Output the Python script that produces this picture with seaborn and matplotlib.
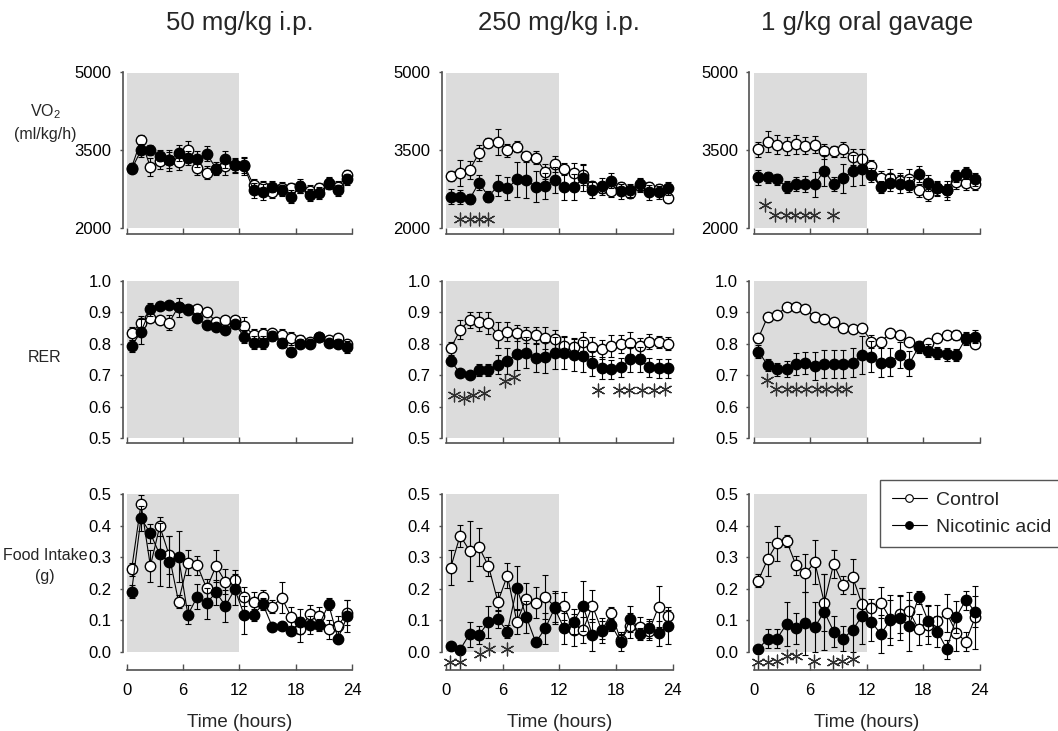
import matplotlib
matplotlib.use("Agg")
import matplotlib.pyplot as plt
from matplotlib.lines import Line2D
import seaborn as sns

# ---------------- data ----------------
hours = [0.5, 1.5, 2.5, 3.5, 4.5, 5.5, 6.5, 7.5, 8.5, 9.5, 10.5, 11.5,
         12.5, 13.5, 14.5, 15.5, 16.5, 17.5, 18.5, 19.5, 20.5, 21.5, 22.5, 23.5]

col_titles = ["50 mg/kg i.p.", "250 mg/kg i.p.", "1 g/kg oral gavage"]
row_labels = ["VO$_2$\n(ml/kg/h)", "RER", "Food Intake\n(g)"]
series_names = ["Control", "Nicotinic acid"]
x_ticks = [0, 6, 12, 18, 24]
vo2_ticks = [2000, 3500, 5000]
rer_ticks = [0.5, 0.6, 0.7, 0.8, 0.9, 1.0]
food_ticks = [0.0, 0.1, 0.2, 0.3, 0.4, 0.5]
dark_phase = [0, 12]

# VO2 (ml/kg/h)
vo2_50_ctrl = [3170, 3700, 3180, 3300, 3310, 3280, 3500, 3170, 3070, 3150, 3190, 3210,
               3220, 2830, 2800, 2700, 2770, 2770, 2800, 2720, 2770, 2860, 2800, 3030]
vo2_50_ctrl_err = [80, 100, 180, 150, 200, 150, 180, 150, 120, 120, 160, 150,
                   150, 120, 120, 120, 120, 110, 120, 120, 110, 110, 110, 100]
vo2_50_na = [3140, 3500, 3510, 3400, 3320, 3450, 3350, 3330, 3440, 3150, 3330, 3210,
             3190, 2730, 2700, 2800, 2730, 2610, 2810, 2640, 2680, 2870, 2730, 2940]
vo2_50_na_err = [70, 120, 100, 110, 150, 160, 130, 150, 140, 90, 160, 130,
                 160, 150, 150, 110, 110, 120, 130, 110, 120, 110, 110, 100]

vo2_250_ctrl = [3010, 3070, 3120, 3450, 3650, 3670, 3500, 3570, 3390, 3360, 3090, 3240,
                3140, 3060, 3030, 2820, 2770, 2710, 2790, 2680, 2820, 2800, 2750, 2580]
vo2_250_ctrl_err = [100, 250, 180, 150, 80, 250, 120, 110, 80, 120, 150, 150,
                    120, 200, 200, 100, 120, 100, 100, 100, 120, 100, 100, 100]
vo2_250_na = [2610, 2600, 2560, 2880, 2610, 2820, 2770, 2940, 2930, 2800, 2820, 2930,
              2800, 2790, 2960, 2740, 2820, 2920, 2710, 2730, 2850, 2690, 2690, 2770]
vo2_250_na_err = [150, 130, 100, 150, 100, 200, 220, 330, 350, 300, 250, 250,
                  250, 250, 250, 150, 140, 150, 150, 130, 120, 150, 120, 120]

vo2_1g_ctrl = [3520, 3670, 3610, 3590, 3620, 3590, 3610, 3480, 3480, 3520, 3370, 3330,
               3200, 2960, 2960, 2920, 2940, 2730, 2660, 2770, 2730, 2900, 2880, 2850]
vo2_1g_ctrl_err = [150, 200, 180, 170, 180, 160, 160, 150, 110, 150, 160, 200,
                   110, 150, 180, 150, 200, 120, 140, 130, 120, 150, 150, 120]
vo2_1g_na = [2980, 2980, 2940, 2800, 2850, 2850, 2850, 3110, 2850, 2960, 3110, 3140,
             3030, 2790, 2880, 2850, 2840, 3050, 2870, 2770, 2730, 3010, 3060, 2940]
vo2_1g_na_err = [150, 110, 100, 120, 140, 160, 240, 300, 130, 280, 300, 300,
                 130, 120, 160, 170, 140, 150, 150, 140, 180, 120, 120, 120]

# RER
rer_50_ctrl = [0.833, 0.867, 0.881, 0.875, 0.867, 0.918, 0.907, 0.909, 0.900, 0.870, 0.875, 0.875,
               0.856, 0.828, 0.831, 0.835, 0.828, 0.817, 0.812, 0.807, 0.822, 0.812, 0.817, 0.800]
rer_50_ctrl_err = [0.02, 0.02, 0.01, 0.01, 0.025, 0.01, 0.01, 0.01, 0.01, 0.01, 0.01, 0.01,
                   0.03, 0.02, 0.02, 0.01, 0.02, 0.02, 0.015, 0.01, 0.01, 0.01, 0.015, 0.01]
rer_50_na = [0.793, 0.838, 0.909, 0.920, 0.923, 0.915, 0.909, 0.881, 0.859, 0.854, 0.844, 0.863,
             0.822, 0.803, 0.803, 0.825, 0.803, 0.775, 0.800, 0.800, 0.822, 0.803, 0.800, 0.789]
rer_50_na_err = [0.02, 0.04, 0.02, 0.01, 0.01, 0.03, 0.01, 0.01, 0.01, 0.01, 0.01, 0.01,
                 0.02, 0.02, 0.02, 0.015, 0.015, 0.01, 0.015, 0.015, 0.01, 0.01, 0.015, 0.02]

rer_250_ctrl = [0.785, 0.844, 0.875, 0.870, 0.865, 0.828, 0.838, 0.835, 0.828, 0.828, 0.817, 0.815,
                0.793, 0.789, 0.807, 0.791, 0.782, 0.793, 0.799, 0.801, 0.793, 0.807, 0.805, 0.800]
rer_250_ctrl_err = [0.02, 0.03, 0.025, 0.03, 0.035, 0.04, 0.03, 0.025, 0.025, 0.025, 0.035, 0.03,
                    0.03, 0.03, 0.03, 0.03, 0.03, 0.035, 0.03, 0.035, 0.025, 0.025, 0.02, 0.02]
rer_250_na = [0.746, 0.706, 0.701, 0.717, 0.717, 0.733, 0.745, 0.767, 0.772, 0.754, 0.757, 0.770,
              0.770, 0.765, 0.761, 0.738, 0.722, 0.719, 0.725, 0.751, 0.751, 0.725, 0.722, 0.722]
rer_250_na_err = [0.015, 0.01, 0.01, 0.02, 0.02, 0.03, 0.04, 0.05, 0.05, 0.045, 0.05, 0.05,
                  0.05, 0.05, 0.05, 0.04, 0.035, 0.03, 0.03, 0.04, 0.04, 0.03, 0.03, 0.03]

rer_1g_ctrl = [0.817, 0.886, 0.891, 0.918, 0.915, 0.910, 0.884, 0.878, 0.870, 0.851, 0.846, 0.851,
               0.807, 0.807, 0.833, 0.828, 0.807, 0.793, 0.801, 0.817, 0.828, 0.828, 0.815, 0.800]
rer_1g_ctrl_err = [0.015, 0.01, 0.01, 0.01, 0.01, 0.01, 0.01, 0.01, 0.01, 0.01, 0.01, 0.01,
                   0.02, 0.01, 0.01, 0.01, 0.01, 0.01, 0.015, 0.01, 0.01, 0.015, 0.01, 0.01]
rer_1g_na = [0.775, 0.733, 0.719, 0.719, 0.736, 0.738, 0.729, 0.736, 0.736, 0.736, 0.740, 0.764,
             0.759, 0.740, 0.743, 0.764, 0.736, 0.789, 0.778, 0.770, 0.766, 0.764, 0.817, 0.822]
rer_1g_na_err = [0.02, 0.02, 0.02, 0.025, 0.035, 0.035, 0.045, 0.045, 0.045, 0.045, 0.045, 0.06,
                 0.05, 0.045, 0.045, 0.04, 0.04, 0.02, 0.02, 0.02, 0.02, 0.02, 0.02, 0.02]

# Food intake (g)
food_50_ctrl = [0.262, 0.469, 0.272, 0.399, 0.307, 0.159, 0.283, 0.275, 0.201, 0.272, 0.222, 0.228,
                0.175, 0.159, 0.175, 0.143, 0.172, 0.111, 0.071, 0.120, 0.113, 0.071, 0.082, 0.124]
food_50_ctrl_err = [0.02, 0.03, 0.05, 0.03, 0.06, 0.02, 0.04, 0.03, 0.03, 0.05, 0.04, 0.03,
                    0.03, 0.03, 0.02, 0.02, 0.05, 0.03, 0.04, 0.03, 0.03, 0.03, 0.03, 0.04]
food_50_na = [0.191, 0.424, 0.376, 0.309, 0.286, 0.302, 0.117, 0.175, 0.154, 0.189, 0.146, 0.198,
              0.117, 0.117, 0.151, 0.079, 0.083, 0.066, 0.095, 0.085, 0.085, 0.151, 0.042, 0.113]
food_50_na_err = [0.02, 0.04, 0.03, 0.10, 0.08, 0.08, 0.03, 0.04, 0.05, 0.04, 0.05, 0.05,
                  0.06, 0.02, 0.02, 0.01, 0.01, 0.01, 0.04, 0.03, 0.02, 0.02, 0.015, 0.05]

food_250_ctrl = [0.267, 0.369, 0.321, 0.332, 0.272, 0.159, 0.242, 0.095, 0.169, 0.156, 0.175, 0.143,
                 0.146, 0.069, 0.069, 0.146, 0.067, 0.122, 0.037, 0.083, 0.080, 0.067, 0.143, 0.114]
food_250_ctrl_err = [0.055, 0.035, 0.095, 0.06, 0.03, 0.03, 0.04, 0.04, 0.05, 0.05, 0.07, 0.05,
                     0.045, 0.05, 0.04, 0.05, 0.04, 0.02, 0.02, 0.04, 0.03, 0.03, 0.065, 0.02]
food_250_na = [0.018, 0.007, 0.056, 0.053, 0.095, 0.104, 0.064, 0.203, 0.111, 0.030, 0.074, 0.138,
               0.074, 0.095, 0.146, 0.053, 0.069, 0.085, 0.032, 0.104, 0.056, 0.074, 0.058, 0.083]
food_250_na_err = [0.01, 0.01, 0.04, 0.03, 0.05, 0.03, 0.02, 0.07, 0.05, 0.01, 0.05, 0.05,
                   0.05, 0.04, 0.08, 0.05, 0.03, 0.02, 0.03, 0.04, 0.02, 0.03, 0.04, 0.06]

food_1g_ctrl = [0.226, 0.294, 0.344, 0.352, 0.275, 0.249, 0.284, 0.156, 0.279, 0.212, 0.238, 0.151,
                0.138, 0.156, 0.105, 0.120, 0.130, 0.071, 0.085, 0.099, 0.122, 0.061, 0.032, 0.109]
food_1g_ctrl_err = [0.02, 0.055, 0.055, 0.02, 0.03, 0.06, 0.07, 0.09, 0.045, 0.03, 0.055, 0.05,
                    0.03, 0.05, 0.06, 0.06, 0.06, 0.05, 0.06, 0.05, 0.06, 0.06, 0.03, 0.10]
food_1g_na = [0.008, 0.042, 0.042, 0.088, 0.074, 0.090, 0.079, 0.127, 0.064, 0.042, 0.069, 0.113,
              0.095, 0.056, 0.100, 0.106, 0.083, 0.173, 0.099, 0.064, 0.008, 0.111, 0.164, 0.127]
food_1g_na_err = [0.01, 0.03, 0.03, 0.07, 0.05, 0.10, 0.08, 0.12, 0.05, 0.04, 0.07, 0.09,
                  0.06, 0.06, 0.08, 0.07, 0.08, 0.02, 0.05, 0.05, 0.03, 0.05, 0.03, 0.05]

# significance asterisks (hour, value)
star_vo2_250_x = [1.5, 2.5, 3.5, 4.5]
star_vo2_250_y = [2170, 2170, 2170, 2170]
star_vo2_1g_x = [1.2, 2.3, 3.4, 4.4, 5.5, 6.4, 8.4]
star_vo2_1g_y = [2450, 2260, 2250, 2250, 2250, 2260, 2260]
star_rer_250_x = [0.8, 1.9, 2.9, 4.0, 6.2, 7.2, 16.1, 18.3, 19.4, 20.7, 22.0, 23.2]
star_rer_250_y = [0.637, 0.627, 0.637, 0.644, 0.683, 0.693, 0.652, 0.653, 0.653, 0.653, 0.653, 0.655]
star_rer_1g_x = [1.4, 2.4, 3.5, 4.5, 5.6, 6.7, 7.7, 8.8, 9.8]
star_rer_1g_y = [0.684, 0.656, 0.656, 0.656, 0.656, 0.656, 0.656, 0.656, 0.656]
star_food_250_x = [0.45, 1.45, 3.6, 4.6, 6.45]
star_food_250_y = [-0.032, -0.034, -0.006, 0.010, 0.010]
star_food_1g_x = [0.45, 1.55, 2.5, 3.5, 4.5, 6.4, 8.4, 9.4, 10.5]
star_food_1g_y = [-0.032, -0.032, -0.028, -0.015, -0.012, -0.028, -0.032, -0.028, -0.022]

# ---------------- style ----------------
sns.set_style("ticks")
plt.rcParams["font.family"] = ["Liberation Sans", "DejaVu Sans"]
plt.rcParams["mathtext.default"] = "regular"

W, H = 1058, 731
fig = plt.figure(figsize=(W / 100, H / 100), dpi=100)

col_left = [122.7, 441.7, 749.3]
px_per_h = [9.38, 9.45, 9.43]
row_top = [72.5, 280.7, 494.3]
row_bottom = [234.0, 443.3, 670.0]
xlim = (-0.45, 24.0)
ylims = [(1890, 5000), (0.484, 1.0), (-0.058, 0.5)]
ybounds = [(2000, 5000), (0.5, 1.0), (0.0, 0.5)]
yticks = [vo2_ticks, rer_ticks, food_ticks]
yfmt = ["{:.0f}", "{:.1f}", "{:.1f}"]

panels = [
    [(vo2_50_ctrl, vo2_50_ctrl_err, vo2_50_na, vo2_50_na_err, [], []),
     (vo2_250_ctrl, vo2_250_ctrl_err, vo2_250_na, vo2_250_na_err, star_vo2_250_x, star_vo2_250_y),
     (vo2_1g_ctrl, vo2_1g_ctrl_err, vo2_1g_na, vo2_1g_na_err, star_vo2_1g_x, star_vo2_1g_y)],
    [(rer_50_ctrl, rer_50_ctrl_err, rer_50_na, rer_50_na_err, [], []),
     (rer_250_ctrl, rer_250_ctrl_err, rer_250_na, rer_250_na_err, star_rer_250_x, star_rer_250_y),
     (rer_1g_ctrl, rer_1g_ctrl_err, rer_1g_na, rer_1g_na_err, star_rer_1g_x, star_rer_1g_y)],
    [(food_50_ctrl, food_50_ctrl_err, food_50_na, food_50_na_err, [], []),
     (food_250_ctrl, food_250_ctrl_err, food_250_na, food_250_na_err, star_food_250_x, star_food_250_y),
     (food_1g_ctrl, food_1g_ctrl_err, food_1g_na, food_1g_na_err, star_food_1g_x, star_food_1g_y)],
]

spine_col = "#505050"

for r in range(3):
    for c in range(3):
        wpx = (xlim[1] - xlim[0]) * px_per_h[c]
        ax = fig.add_axes([col_left[c] / W, 1 - row_bottom[r] / H,
                           wpx / W, (row_bottom[r] - row_top[r]) / H])
        ctrl, ctrl_err, na, na_err, sx, sy = panels[r][c]
        lo, hi = ybounds[r]
        ax.fill_between(dark_phase, [lo, lo], [hi, hi], color="#dcdcdc", lw=0, zorder=0)

        ax.errorbar(hours, ctrl, yerr=ctrl_err, fmt="none", ecolor="black",
                    elinewidth=0.8, capsize=2, capthick=0.8, zorder=2, clip_on=False)
        sns.lineplot(x=hours, y=ctrl, ax=ax, color="black", lw=0.8, marker="o",
                     markersize=7.5, markerfacecolor="white", markeredgecolor="black",
                     markeredgewidth=1.0, zorder=3, clip_on=False, errorbar=None)
        ax.errorbar(hours, na, yerr=na_err, fmt="none", ecolor="black",
                    elinewidth=0.8, capsize=2, capthick=0.8, zorder=4, clip_on=False)
        sns.lineplot(x=hours, y=na, ax=ax, color="black", lw=0.8, marker="o",
                     markersize=7.5, markerfacecolor="black", markeredgecolor="black",
                     markeredgewidth=1.0, zorder=5, clip_on=False, errorbar=None)
        if sx:
            sns.scatterplot(x=sx, y=sy, ax=ax, marker=(6, 2, 0), s=85,
                            color="#303030", linewidth=0.9, zorder=6, clip_on=False)

        ax.set_xlim(*xlim)
        ax.set_ylim(*ylims[r])
        ax.set_xticks(x_ticks)
        ax.set_yticks(yticks[r])
        ax.set_yticklabels([yfmt[r].format(v) for v in yticks[r]])
        if r == 2:
            ax.set_xticklabels([str(v) for v in x_ticks])
        else:
            ax.set_xticklabels([])
        ax.set_xlabel("")
        ax.set_ylabel("")
        for s in ["top", "right"]:
            ax.spines[s].set_visible(False)
        ax.spines["left"].set_bounds(lo, hi)
        ax.spines["bottom"].set_bounds(0, 24)
        for s in ["left", "bottom"]:
            ax.spines[s].set_color(spine_col)
            ax.spines[s].set_linewidth(1.2)
        ax.tick_params(axis="y", direction="out", length=2.5, width=1, pad=5.5,
                       labelsize=12, color=spine_col, labelcolor="black")
        ax.tick_params(axis="x", direction="in", length=4, width=1, pad=9.5,
                       labelsize=12, color=spine_col, labelcolor="black")
        ax.patch.set_alpha(0)

        if r == 2:
            cx = col_left[c] + (0.45 + 12) * px_per_h[c]
            fig.text(cx / W, 1 - 727 / H, "Time (hours)", ha="center", va="baseline",
                     fontsize=13.5)

# column titles
for c in range(3):
    cx = col_left[c] + (0.45 + 12) * px_per_h[c]
    fig.text(cx / W, 1 - 23 / H, col_titles[c], ha="center", va="center", fontsize=18.5)

# row labels
row_label_y = [122, 358, 566]
for r in range(3):
    fig.text(45 / W, 1 - row_label_y[r] / H, row_labels[r], ha="center", va="center",
             fontsize=11.5, multialignment="center", linespacing=1.45)

# legend
handles = [
    Line2D([], [], color="black", lw=0.8, marker="o", markersize=5.5,
           markerfacecolor="white", markeredgecolor="black", markeredgewidth=0.8),
    Line2D([], [], color="black", lw=0.8, marker="o", markersize=5.5,
           markerfacecolor="black", markeredgecolor="black", markeredgewidth=0.8),
]
leg = fig.legend(handles, series_names, loc="upper left",
                 bbox_to_anchor=(880 / W, 1 - 480 / H), fontsize=14, frameon=True,
                 fancybox=False, edgecolor="#555555", framealpha=1,
                 handlelength=1.8, handletextpad=0.5, borderpad=0.6, labelspacing=0.45,
                 borderaxespad=0)
leg.get_frame().set_linewidth(1.0)

fig.savefig("out.png", dpi=100)
